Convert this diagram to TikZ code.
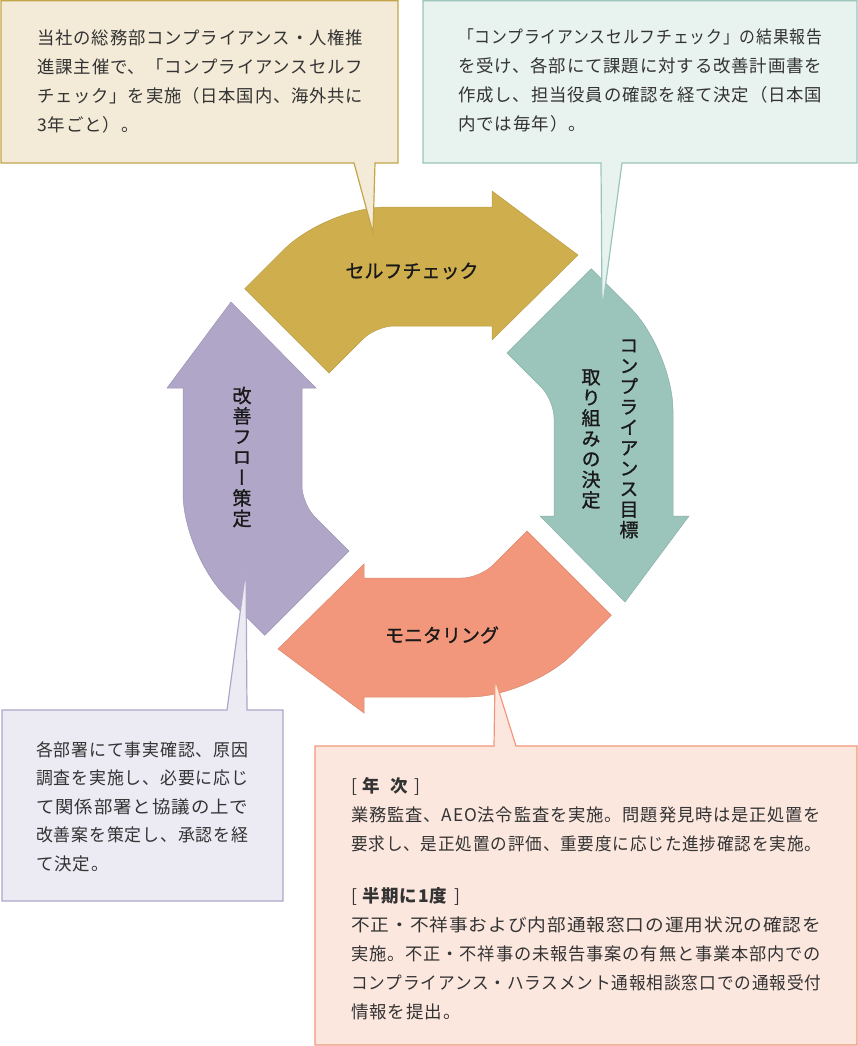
\documentclass[tikz,border=0pt]{standalone}
\usepackage{fontspec}
\usepackage{graphicx}
\usepackage{tikz}
\newfontfamily\jpfont{Noto Sans CJK JP}[LetterSpace=5]
\newfontfamily\jplabel{Noto Sans CJK JP}[FakeBold=1]
\newfontfamily\jpvert{Noto Sans CJK JP}[RawFeature=+vert, FakeBold=1]
\definecolor{goldarrow}{HTML}{CFAE4D}
\definecolor{tealarrow}{HTML}{9BC4BA}
\definecolor{salmonarrow}{HTML}{F2977B}
\definecolor{purplearrow}{HTML}{AFA6C8}
\definecolor{goldbox}{HTML}{F3EAD7}
\definecolor{tealbox}{HTML}{E8F2EF}
\definecolor{salmonbox}{HTML}{FCE7DF}
\definecolor{purplebox}{HTML}{ECEAF3}
\definecolor{textgray}{HTML}{333333}
\def\ringarrow[#1](#2){\draw[#1, shift={(428,452)}, rotate=#2] (-99,-79) [rounded corners=18pt] -- (-52,-126) [sharp corners] -- (64,-126) -- (64,-112) -- (150,-197) -- (64,-261) -- (64,-245) [rounded corners=60pt] -- (-101.5,-245) [sharp corners] -- (-183.25,-163.25) -- cycle;}
\def\fitline#1{\resizebox{\linewidth}{\height}{#1}}

\begin{document}
\begin{tikzpicture}[x=1pt, y=-1pt,
		boxtext/.style={anchor=base west, inner sep=0pt, align=left, text=textgray, font={\jpfont\fontsize{17.5pt}{29pt}\selectfont}},
		ringlabel/.style={inner sep=0pt, text=black!90, font={\jplabel\fontsize{19pt}{20.5pt}\selectfont}},
		vlabel/.style={inner sep=0pt, align=center, text=black!90, font={\jpvert\fontsize{19pt}{20.5pt}\selectfont}}]
			%%%%% START %%%%%
			
			\useasboundingbox (0,0) rectangle (858,1046);
			
			\ringarrow[fill=goldarrow, draw=goldarrow!90!black, line width=0.5pt](0)
			\ringarrow[fill=tealarrow, draw=tealarrow!90!black, line width=0.5pt](-90)
			\ringarrow[fill=salmonarrow, draw=salmonarrow!90!black, line width=0.5pt](180)
			\ringarrow[fill=purplearrow, draw=purplearrow!90!black, line width=0.5pt](90)
			
			\node[ringlabel] (selfcheck) at (412,271) {セルフチェック};
			\node[ringlabel] (monitoring) at (442,635) {モニタリング};
			\node[vlabel] (goal) at (629,439) {コ\\ン\\プ\\ラ\\イ\\ア\\ン\\ス\\目\\標};
			\node[vlabel] (goaldecide) at (591,439) {取\\り\\組\\み\\の\\決\\定};
			\node[vlabel] (flow) at (242,457) {改\\善\\フ\\ロ\\ー\\策\\定};
			
			\draw[fill=goldbox, draw=goldarrow!95!black, line width=1.2pt] (1,0.8) -- (398,0.8) -- (398,163) -- (375,163) -- (373,233) -- (354,163) -- (1,163) -- cycle;
			\node[boxtext, text width=326pt] (selfnote) at (37,45) {\fitline{当社の総務部コンプライアンス・人権推}\\\fitline{進課主催で、「コンプライアンスセルフ}\\\fitline{チェック」を実施（日本国内、海外共に}\\3年ごと）。};
			
			\draw[fill=tealbox, draw=tealarrow, line width=1.2pt] (423,0.8) -- (857,0.8) -- (857,163) -- (622,163) -- (602,311) -- (601,163) -- (423,163) -- cycle;
			\node[boxtext, text width=364pt] (goalnote) at (458,44) {\fitline{「コンプライアンスセルフチェック」の結果報告}\\\fitline{を受け、各部にて課題に対する改善計画書を}\\\fitline{作成し、担当役員の確認を経て決定（日本国}\\内では毎年）。};
			
			\draw[fill=purplebox, draw=purplearrow, line width=1.2pt] (2,710) -- (227,710) -- (246,569) -- (247,710) -- (283,710) -- (283,901) -- (2,901) -- cycle;
			\node[boxtext, text width=212pt, font={\jpfont\fontsize{17.5pt}{28.5pt}\selectfont}] (flownote) at (36,756) {\fitline{各部署にて事実確認、原因}\\\fitline{調査を実施し、必要に応じ}\\\fitline{て関係部署と協議の上で}\\\fitline{改善案を策定し、承認を経}\\て決定。};
			
			\draw[fill=salmonbox, draw=salmonarrow, line width=1.2pt] (315,746) -- (494,746) -- (495,679) -- (516,746) -- (857,746) -- (857,1045) -- (315,1045) -- cycle;
			\node[boxtext, text width=470pt] (monitornote) at (351,792) {{[}\hspace{5pt}\textbf{年\hspace{10pt}次}\hspace{6pt}{]}\\\fitline{業務監査、AEO法令監査を実施。問題発見時は是正処置を}\\\fitline{要求し、是正処置の評価、重要度に応じた進捗確認を実施。}\\[23pt]{[}\hspace{5pt}\textbf{半期に1度}\hspace{6pt}{]}\\\fitline{不正・不祥事および内部通報窓口の運用状況の確認を}\\\fitline{実施。不正・不祥事の未報告事案の有無と事業本部内での}\\\fitline{コンプライアンス・ハラスメント通報相談窓口での通報受付}\\情報を提出。};
			
			%%%%% END %%%%%
\end{tikzpicture}
\end{document}
